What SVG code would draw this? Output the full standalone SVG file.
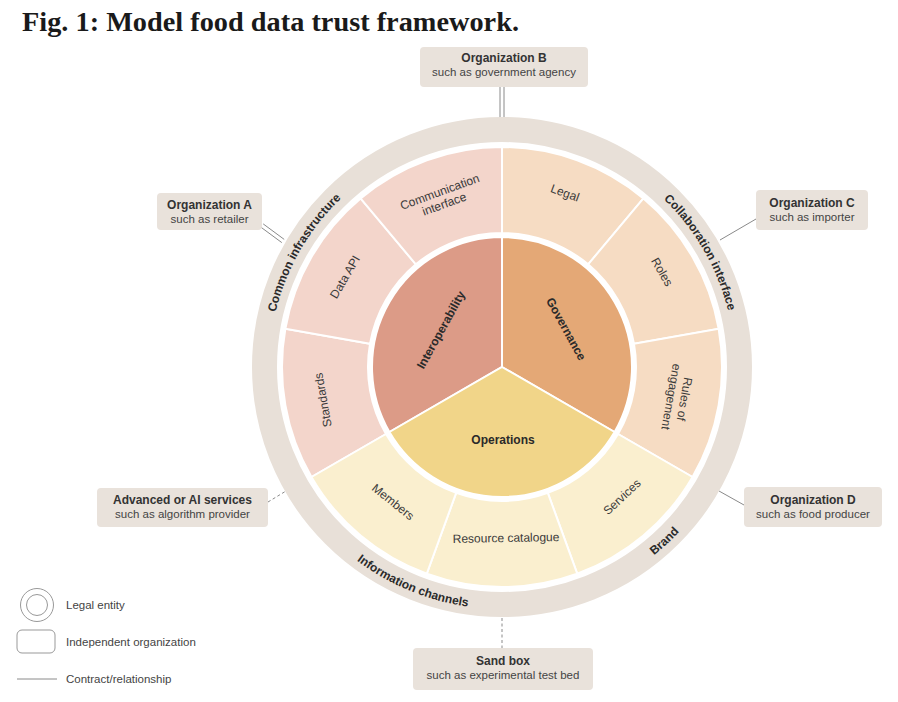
<svg xmlns="http://www.w3.org/2000/svg" width="898" height="702" viewBox="0 0 898 702">
<style>
text{font-family:"Liberation Sans",Arial,sans-serif;fill:#2e2e2e}
.t{font-family:"Liberation Serif","Times New Roman",serif;font-weight:bold;font-size:28px;fill:#1a1a1a}
.box{fill:#e9e2db}
.bt{font-size:12px;font-weight:bold;text-anchor:middle;fill:#333}
.bs{font-size:11.5px;text-anchor:middle;fill:#444}
.seg{stroke:#fff;stroke-width:2}
.lbl{font-size:12px;text-anchor:middle;fill:#3a3a3a}
.core{font-size:12px;font-weight:bold;text-anchor:middle;fill:#2a2a2a}
.band{font-size:12px;font-weight:bold;fill:#2a2a2a}
.ln{stroke:#8a8a8a;stroke-width:1;fill:none}
.dash{stroke-dasharray:3 2.5}
.lg{font-size:11.5px;fill:#444}
.i1{fill:#dc9b87}.i2{fill:#f3d5cb}
.g1{fill:#e4a876}.g2{fill:#f6dcc3}
.o1{fill:#f1d589}.o2{fill:#faefcf}
</style>
<defs>
<path id="pCommon" d="M323.51,516.77 A233,233 0 0 1 542.46,137.54"/>
<path id="pCollab" d="M461.54,137.54 A233,233 0 0 1 680.49,516.77"/>
<path id="pBrand" d="M392.13,582.62 A242,242 0 0 0 724.76,272.44"/>
<path id="pInfo" d="M260.23,356.44 A242,242 0 0 0 680.42,530.49"/>
</defs>

<rect width="898" height="702" fill="#fff"/>
<text class="t" x="22" y="31" textLength="497" lengthAdjust="spacingAndGlyphs">Fig. 1: Model food data trust framework.</text>

<g id="connectors">
<line class="ln" x1="500" y1="87" x2="500" y2="118"/>
<line class="ln" x1="504" y1="87" x2="504" y2="118"/>
<line class="ln" x1="263.2" y1="223.9" x2="284.2" y2="239.4"/>
<line class="ln" x1="260.8" y1="227.1" x2="281.8" y2="242.6"/>
<line class="ln" x1="720" y1="240" x2="756" y2="219"/>
<line class="ln" x1="719" y1="491" x2="744" y2="505"/>
<line class="ln dash" x1="268" y1="502" x2="286" y2="491"/>
<line class="ln dash" x1="502" y1="618" x2="502" y2="648"/>
</g>

<g id="legal-entity-ring">
<circle cx="502" cy="367" r="237.5" fill="none" stroke="#e8e0d8" stroke-width="25"/>
<text class="band"><textPath href="#pCommon" startOffset="50%" text-anchor="middle">Common infrastructure</textPath></text>
<text class="band"><textPath href="#pCollab" startOffset="50%" text-anchor="middle">Collaboration interface</textPath></text>
<text class="band"><textPath href="#pBrand" startOffset="50%" text-anchor="middle">Brand</textPath></text>
<text class="band"><textPath href="#pInfo" startOffset="50%" text-anchor="middle">Information channels</textPath></text>
</g>

<g id="seg-standards">
<path class="seg i2" d="M311.47,477 A220,220 0 0 1 285.34,328.81 L370.04,343.74 A134,134 0 0 0 385.96,434 Z"/>
<text class="lbl" transform="translate(323,400) rotate(-100)" dy="4">Standards</text>
</g>
<g id="seg-data-api">
<path class="seg i2" d="M285.34,328.81 A220,220 0 0 1 360.58,198.48 L415.86,264.36 A134,134 0 0 0 370.04,343.74 Z"/>
<text class="lbl" transform="translate(345,277) rotate(-60)" dy="4">Data API</text>
</g>
<g id="seg-communication">
<path class="seg i2" d="M360.58,198.48 A220,220 0 0 1 502,147 L502,233 A134,134 0 0 0 415.86,264.36 Z"/>
<text class="lbl" transform="translate(442,198) rotate(-20)"><tspan x="0" y="-2.5">Communication</tspan><tspan x="0" y="10.5">interface</tspan></text>
</g>
<g id="seg-legal">
<path class="seg g2" d="M502,147 A220,220 0 0 1 643.42,198.48 L588.14,264.36 A134,134 0 0 0 502,233 Z"/>
<text class="lbl" transform="translate(565,193) rotate(20)" dy="4">Legal</text>
</g>
<g id="seg-roles">
<path class="seg g2" d="M643.42,198.48 A220,220 0 0 1 718.66,328.81 L633.96,343.74 A134,134 0 0 0 588.14,264.36 Z"/>
<text class="lbl" transform="translate(662,272) rotate(60)" dy="4">Roles</text>
</g>
<g id="seg-rules">
<path class="seg g2" d="M718.66,328.81 A220,220 0 0 1 692.53,477 L618.04,434 A134,134 0 0 0 633.96,343.74 Z"/>
<text class="lbl" transform="translate(678,398) rotate(100)"><tspan x="0" y="-2.5">Rules of</tspan><tspan x="0" y="11">engagement</tspan></text>
</g>
<g id="seg-services">
<path class="seg o2" d="M692.53,477 A220,220 0 0 1 577.24,573.73 L547.83,492.92 A134,134 0 0 0 618.04,434 Z"/>
<text class="lbl" transform="translate(622,497) rotate(-43)" dy="4">Services</text>
</g>
<g id="seg-resource">
<path class="seg o2" d="M577.24,573.73 A220,220 0 0 1 426.76,573.73 L456.17,492.92 A134,134 0 0 0 547.83,492.92 Z"/>
<text class="lbl" transform="translate(506,538) rotate(-1)" dy="4">Resource catalogue</text>
</g>
<g id="seg-members">
<path class="seg o2" d="M426.76,573.73 A220,220 0 0 1 311.47,477 L385.96,434 A134,134 0 0 0 456.17,492.92 Z"/>
<text class="lbl" transform="translate(393,502) rotate(39)" dy="4">Members</text>
</g>

<g id="core-interoperability">
<path class="seg i1" d="M502,367 L389.42,432 A130,130 0 0 1 502,237 Z"/>
<text class="core" transform="translate(441,330) rotate(-61)" dy="4">Interoperability</text>
</g>
<g id="core-governance">
<path class="seg g1" d="M502,367 L502,237 A130,130 0 0 1 614.58,432 Z"/>
<text class="core" transform="translate(566,329) rotate(61)" dy="4">Governance</text>
</g>
<g id="core-operations">
<path class="seg o1" d="M502,367 L614.58,432 A130,130 0 0 1 389.42,432 Z"/>
<text class="core" x="503" y="444">Operations</text>
</g>

<g id="org-a">
<rect class="box" x="157" y="193" width="105" height="37" rx="4"/>
<text class="bt" x="209.5" y="209">Organization A</text>
<text class="bs" x="209.5" y="223">such as retailer</text>
</g>
<g id="org-b">
<rect class="box" x="420" y="47" width="168" height="40" rx="4"/>
<text class="bt" x="504" y="62">Organization B</text>
<text class="bs" x="504" y="76">such as government agency</text>
</g>
<g id="org-c">
<rect class="box" x="756" y="190" width="112" height="40" rx="4"/>
<text class="bt" x="812" y="207">Organization C</text>
<text class="bs" x="812" y="221">such as importer</text>
</g>
<g id="org-d">
<rect class="box" x="744" y="487" width="138" height="40" rx="4"/>
<text class="bt" x="813" y="504">Organization D</text>
<text class="bs" x="813" y="518">such as food producer</text>
</g>
<g id="ai-services">
<rect class="box" x="97" y="488" width="171" height="39" rx="4"/>
<text class="bt" x="182.5" y="504">Advanced or AI services</text>
<text class="bs" x="182.5" y="518">such as algorithm provider</text>
</g>
<g id="sand-box">
<rect class="box" x="413" y="648" width="180" height="42" rx="4"/>
<text class="bt" x="503" y="665">Sand box</text>
<text class="bs" x="503" y="679">such as experimental test bed</text>
</g>

<g id="legend">
<circle cx="37" cy="605" r="16.5" fill="none" stroke="#999" stroke-width="1"/>
<circle cx="37" cy="605" r="10.5" fill="none" stroke="#999" stroke-width="1"/>
<text class="lg" x="66" y="609">Legal entity</text>
<rect x="17" y="630" width="38" height="23" rx="5" fill="none" stroke="#999" stroke-width="1"/>
<text class="lg" x="66" y="646">Independent organization</text>
<line class="ln" x1="17" y1="679" x2="57" y2="679"/>
<text class="lg" x="66" y="683">Contract/relationship</text>
</g>
</svg>
